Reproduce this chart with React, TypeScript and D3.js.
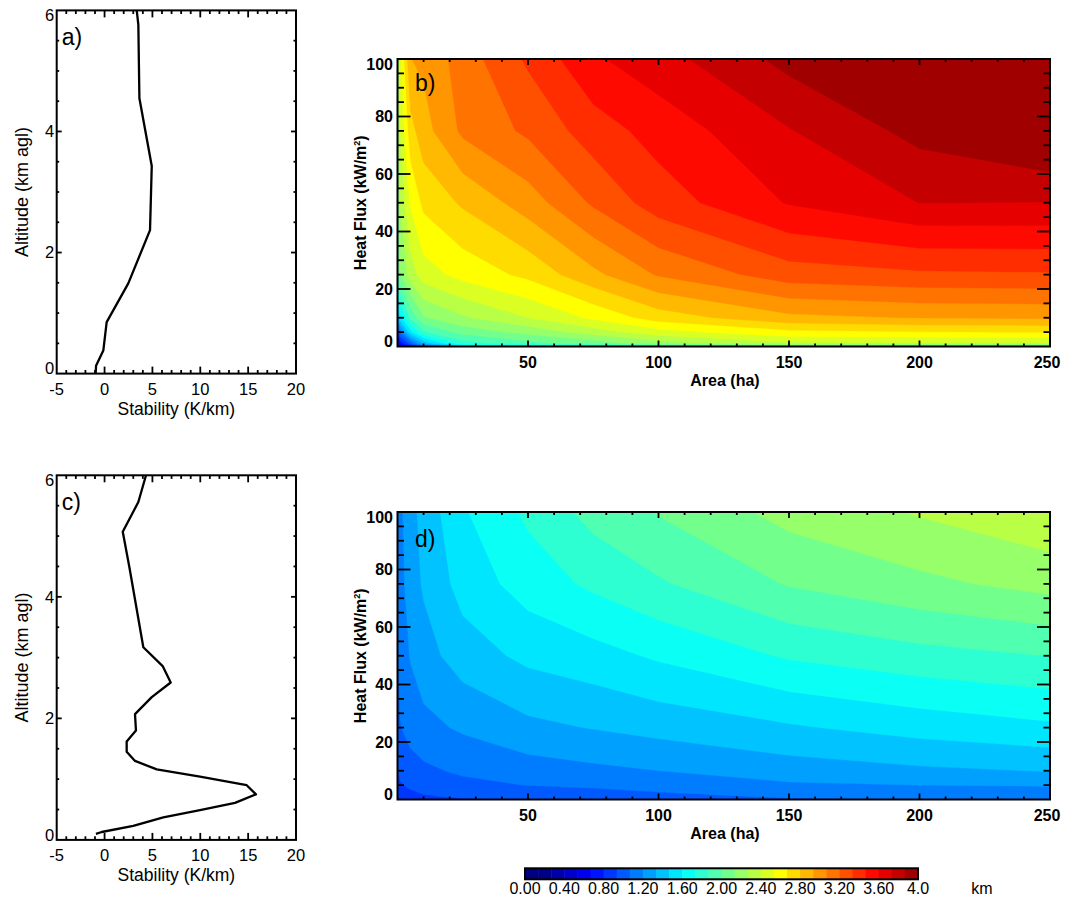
import React, { useRef, useEffect } from 'react';
import * as d3 from 'd3';

// stability profiles (altitude km agl, stability K/km)
const altA = [0, 0.13, 0.38, 0.85, 1.49, 2.37, 3.43, 4.55, 5.76, 6.0];
const stabA = [-0.93, -0.89, -0.13, 0.22, 2.48, 4.75, 4.93, 3.64, 3.53, 3.36];

const altC = [0.1, 0.13, 0.23, 0.37, 0.49, 0.61, 0.75, 0.9, 1.04, 1.16, 1.3, 1.45, 1.62, 1.8, 2.07, 2.35, 2.59, 2.86, 3.17, 4.49, 5.07, 5.56, 6.0];
const stabC = [-0.9, -0.3, 3.0, 6.14, 9.97, 13.63, 15.82, 14.85, 9.97, 5.45, 3.18, 2.31, 2.31, 3.28, 3.18, 4.93, 6.91, 6.07, 4.05, 2.59, 1.9, 3.53, 4.33];

// plume height grids (km), one row per heat flux value, one column per area
const areaHa = [0, 1, 5, 10, 25, 50, 75, 100, 150, 200, 250];
const heatFlux = [0, 1, 5, 10, 25, 50, 75, 100];

const heightB = [
  [0.30, 0.45, 0.70, 0.95, 1.30, 1.45, 1.50, 1.55, 1.58, 1.60, 1.60],
  [0.50, 0.70, 1.00, 1.35, 1.80, 1.95, 2.05, 2.20, 2.37, 2.38, 2.38],
  [0.80, 1.10, 1.55, 1.85, 2.05, 2.18, 2.33, 2.48, 2.63, 2.66, 2.67],
  [1.30, 1.55, 1.90, 2.12, 2.25, 2.40, 2.56, 2.73, 2.90, 2.94, 2.95],
  [1.95, 2.12, 2.33, 2.47, 2.58, 2.70, 2.90, 3.08, 3.27, 3.31, 3.32],
  [2.05, 2.28, 2.55, 2.70, 2.82, 3.00, 3.22, 3.40, 3.61, 3.735, 3.73],
  [2.10, 2.40, 2.75, 2.88, 3.095, 3.225, 3.40, 3.52, 3.725, 3.91, 4.05],
  [2.15, 2.50, 2.93, 2.96, 3.13, 3.355, 3.58, 3.68, 3.91, 4.06, 4.20],
];

const heightD = [
  [0.70, 0.80, 0.85, 0.88, 0.92, 0.95, 0.97, 1.00, 1.05, 1.07, 1.08],
  [0.78, 0.85, 0.89, 0.92, 0.95, 0.98, 1.00, 1.03, 1.08, 1.10, 1.12],
  [0.87, 0.92, 0.96, 0.99, 1.03, 1.07, 1.09, 1.12, 1.18, 1.20, 1.21],
  [0.92, 0.97, 1.01, 1.04, 1.09, 1.14, 1.17, 1.20, 1.27, 1.31, 1.34],
  [1.00, 1.06, 1.12, 1.16, 1.22, 1.30, 1.34, 1.38, 1.45, 1.52, 1.575],
  [1.05, 1.12, 1.21, 1.28, 1.40, 1.50, 1.55, 1.62, 1.75, 1.82, 1.87],
  [1.08, 1.15, 1.27, 1.35, 1.52, 1.66, 1.76, 1.85, 2.01, 2.10, 2.18],
  [1.10, 1.17, 1.29, 1.38, 1.585, 1.76, 1.914, 2.01, 2.18, 2.28, 2.375],
];

const cbarValues = [0, 0.4, 0.8, 1.2, 1.6, 2.0, 2.4, 2.8, 3.2, 3.6, 4.0];
const cbarLabels = ['0.00', '0.40', '0.80', '1.20', '1.60', '2.00', '2.40', '2.80', '3.20', '3.60', '4.0'];

const FONT = 'Liberation Sans, Arial, Helvetica, sans-serif';
const nLevels = 30;
const levels = d3.range(nLevels).map(k => (k * 4) / nLevels);

const jet = d3.scaleLinear<string>()
  .domain([0, 0.125, 0.375, 0.625, 0.875, 1])
  .range(['#000080', '#0000ff', '#00ffff', '#ffff00', '#ff0000', '#800000'])
  .clamp(true);
const bandColor = (k: number) => jet(Math.max(0, -0.027 + 0.0343 * k));

type Box = { left: number; right: number; top: number; bottom: number };

const boxA: Box = { left: 56.7, right: 296, top: 10.4, bottom: 373.6 };
const boxC: Box = { left: 56.7, right: 296, top: 475.3, bottom: 839.9 };
const boxB: Box = { left: 397.5, right: 1050, top: 59, bottom: 346.5 };
const boxD: Box = { left: 397.5, right: 1050, top: 512, bottom: 799.5 };

function drawProfile(svg: any, alt: number[], stab: number[], box: Box, label: string) {
  const x = d3.scaleLinear().domain([-5, 20]).range([box.left, box.right]);
  const y = d3.scaleLinear().domain([0, 6]).range([box.bottom, box.top]);
  const g = svg.append('g').attr('font-family', FONT);

  g.append('path')
    .datum(d3.zip(stab, alt))
    .attr('d', d3.line<number[]>().x(d => x(d[0])).y(d => y(d[1])))
    .attr('fill', 'none')
    .attr('stroke', '#000')
    .attr('stroke-width', 2.3)
    .attr('stroke-linejoin', 'round');

  const ticks = g.append('g').attr('stroke', '#000').attr('stroke-width', 1.8);
  d3.range(-4, 20, 1).forEach(v => {
    const len = v % 5 === 0 ? 7 : 3.6;
    ticks.append('line').attr('x1', x(v)).attr('x2', x(v)).attr('y1', box.bottom).attr('y2', box.bottom - len);
    ticks.append('line').attr('x1', x(v)).attr('x2', x(v)).attr('y1', box.top).attr('y2', box.top + len);
  });
  d3.range(0.5, 6, 0.5).forEach(v => {
    const len = v % 2 === 0 ? 5 : 2.5;
    ticks.append('line').attr('y1', y(v)).attr('y2', y(v)).attr('x1', box.left).attr('x2', box.left + len);
    ticks.append('line').attr('y1', y(v)).attr('y2', y(v)).attr('x1', box.right).attr('x2', box.right - len);
  });

  g.append('rect')
    .attr('x', box.left).attr('y', box.top)
    .attr('width', box.right - box.left).attr('height', box.bottom - box.top)
    .attr('fill', 'none').attr('stroke', '#000').attr('stroke-width', 2);

  g.selectAll('.xl').data([-5, 0, 5, 10, 15, 20]).join('text')
    .attr('x', d => x(d)).attr('y', box.bottom + 21.4)
    .attr('text-anchor', 'middle').attr('font-size', 16.5)
    .text(d => String(d));
  g.selectAll('.yl').data([0, 2, 4, 6]).join('text')
    .attr('x', box.left - 2.5)
    .attr('y', d => Math.min(Math.max(y(d), box.top + 5), box.bottom - 5))
    .attr('dy', '0.35em')
    .attr('text-anchor', 'end').attr('font-size', 16.5)
    .text(d => String(d));

  g.append('text')
    .attr('x', (box.left + box.right) / 2).attr('y', box.bottom + 41)
    .attr('text-anchor', 'middle').attr('font-size', 17.5)
    .text('Stability (K/km)');
  g.append('text')
    .attr('transform', `translate(28,${(box.top + box.bottom) / 2}) rotate(-90)`)
    .attr('text-anchor', 'middle').attr('font-size', 18)
    .text('Altitude (km agl)');
  g.append('text')
    .attr('x', box.left + 5).attr('y', box.top + 34.5)
    .attr('font-size', 23)
    .text(label);
}

function drawField(svg: any, grid: number[][], box: Box, label: string, labelY: number) {
  const x = d3.scaleLinear().domain([0, 250]).range([box.left, box.right]);
  const y = d3.scaleLinear().domain([0, 100]).range([box.bottom, box.top]);
  const nx = areaHa.length;
  const ny = heatFlux.length;
  const ix = d3.scaleLinear().domain(d3.range(nx).map(i => i + 0.5)).range(areaHa).clamp(true);
  const iy = d3.scaleLinear().domain(d3.range(ny).map(j => j + 0.5)).range(heatFlux).clamp(true);
  const proj = d3.geoTransform({
    point(px: number, py: number) {
      (this as any).stream.point(x(ix(px)), y(iy(py)));
    },
  });
  const path = d3.geoPath(proj);
  const bands = d3.contours().size([nx, ny]).thresholds(levels)(grid.flat());

  const g = svg.append('g').attr('font-family', FONT);
  g.append('g').selectAll('path').data(bands).join('path')
    .attr('d', (d: any) => path(d))
    .attr('fill', (d: any, i: number) => bandColor(i))
    .attr('fill-rule', 'evenodd')
    .attr('stroke', (d: any, i: number) => bandColor(i))
    .attr('stroke-width', 0.3);

  const ticks = g.append('g').attr('stroke', '#000').attr('stroke-width', 1.8);
  d3.range(10, 250, 10).forEach(v => {
    const len = v % 50 === 0 ? 6 : 3;
    ticks.append('line').attr('x1', x(v)).attr('x2', x(v)).attr('y1', box.bottom).attr('y2', box.bottom - len);
    ticks.append('line').attr('x1', x(v)).attr('x2', x(v)).attr('y1', box.top).attr('y2', box.top + len);
  });
  d3.range(5, 100, 5).forEach(v => {
    const len = v % 20 === 0 ? 13 : 6.5;
    ticks.append('line').attr('y1', y(v)).attr('y2', y(v)).attr('x1', box.left).attr('x2', box.left + len);
    ticks.append('line').attr('y1', y(v)).attr('y2', y(v)).attr('x1', box.right).attr('x2', box.right - len);
  });

  g.append('rect')
    .attr('x', box.left).attr('y', box.top)
    .attr('width', box.right - box.left).attr('height', box.bottom - box.top)
    .attr('fill', 'none').attr('stroke', '#000').attr('stroke-width', 2);

  g.selectAll('.xl').data([50, 100, 150, 200, 250]).join('text')
    .attr('x', d => Math.min(x(d), box.right - 3)).attr('y', box.bottom + 21)
    .attr('text-anchor', 'middle').attr('font-size', 16).attr('font-weight', 'bold')
    .text(d => String(d));
  g.selectAll('.yl').data([0, 20, 40, 60, 80, 100]).join('text')
    .attr('x', box.left - 4.5)
    .attr('y', d => Math.min(Math.max(y(d), box.top + 5), box.bottom - 5))
    .attr('dy', '0.35em')
    .attr('text-anchor', 'end').attr('font-size', 16).attr('font-weight', 'bold')
    .text(d => String(d));

  g.append('text')
    .attr('x', 725).attr('y', box.bottom + 39)
    .attr('text-anchor', 'middle').attr('font-size', 16).attr('font-weight', 'bold')
    .text('Area (ha)');
  const yt = g.append('text')
    .attr('transform', `translate(366,${(box.top + box.bottom) / 2}) rotate(-90)`)
    .attr('text-anchor', 'middle').attr('font-size', 16).attr('font-weight', 'bold');
  yt.append('tspan').text('Heat Flux (kW/m');
  yt.append('tspan').attr('dy', -6).attr('font-size', 9).text('2');
  yt.append('tspan').attr('dy', 6).text(')');

  g.append('text')
    .attr('x', box.left + 17.5).attr('y', labelY)
    .attr('font-size', 23)
    .text(label);
}

function drawColorbar(svg: any) {
  const x = d3.scaleLinear().domain([0, 4]).range([525, 918]);
  const top = 868.3;
  const h = 11;
  const g = svg.append('g').attr('font-family', FONT);
  g.selectAll('rect.band').data(levels).join('rect')
    .attr('x', (d: number) => x(d)).attr('y', top)
    .attr('width', (d: number) => x(d + 4 / nLevels) - x(d) + 0.5).attr('height', h)
    .attr('fill', (d: number, i: number) => bandColor(i));
  g.append('rect')
    .attr('x', x(0)).attr('y', top).attr('width', x(4) - x(0)).attr('height', h)
    .attr('fill', 'none').attr('stroke', '#000').attr('stroke-width', 2);
  g.selectAll('text.cl').data(cbarValues).join('text')
    .attr('x', (d: number) => x(d)).attr('y', 894)
    .attr('text-anchor', 'middle').attr('font-size', 16)
    .text((d: number, i: number) => cbarLabels[i]);
  g.append('text').attr('x', 982).attr('y', 894)
    .attr('text-anchor', 'middle').attr('font-size', 16).text('km');
}

export default function App() {
  const svgRef = useRef<SVGSVGElement>(null);

  useEffect(() => {
    const svg = d3.select(svgRef.current);
    svg.selectAll('*').remove();
    svg.append('rect').attr('width', 1069).attr('height', 901).attr('fill', '#fff');

    drawProfile(svg, altA, stabA, boxA, 'a)');
    drawProfile(svg, altC, stabC, boxC, 'c)');
    drawField(svg, heightB, boxB, 'b)', 91);
    drawField(svg, heightD, boxD, 'd)', 547);
    drawColorbar(svg);
  }, []);

  return (
    <svg
      ref={svgRef}
      width={1069}
      height={901}
      style={{ position: 'absolute', left: 0, top: 0, display: 'block' }}
    />
  );
}
